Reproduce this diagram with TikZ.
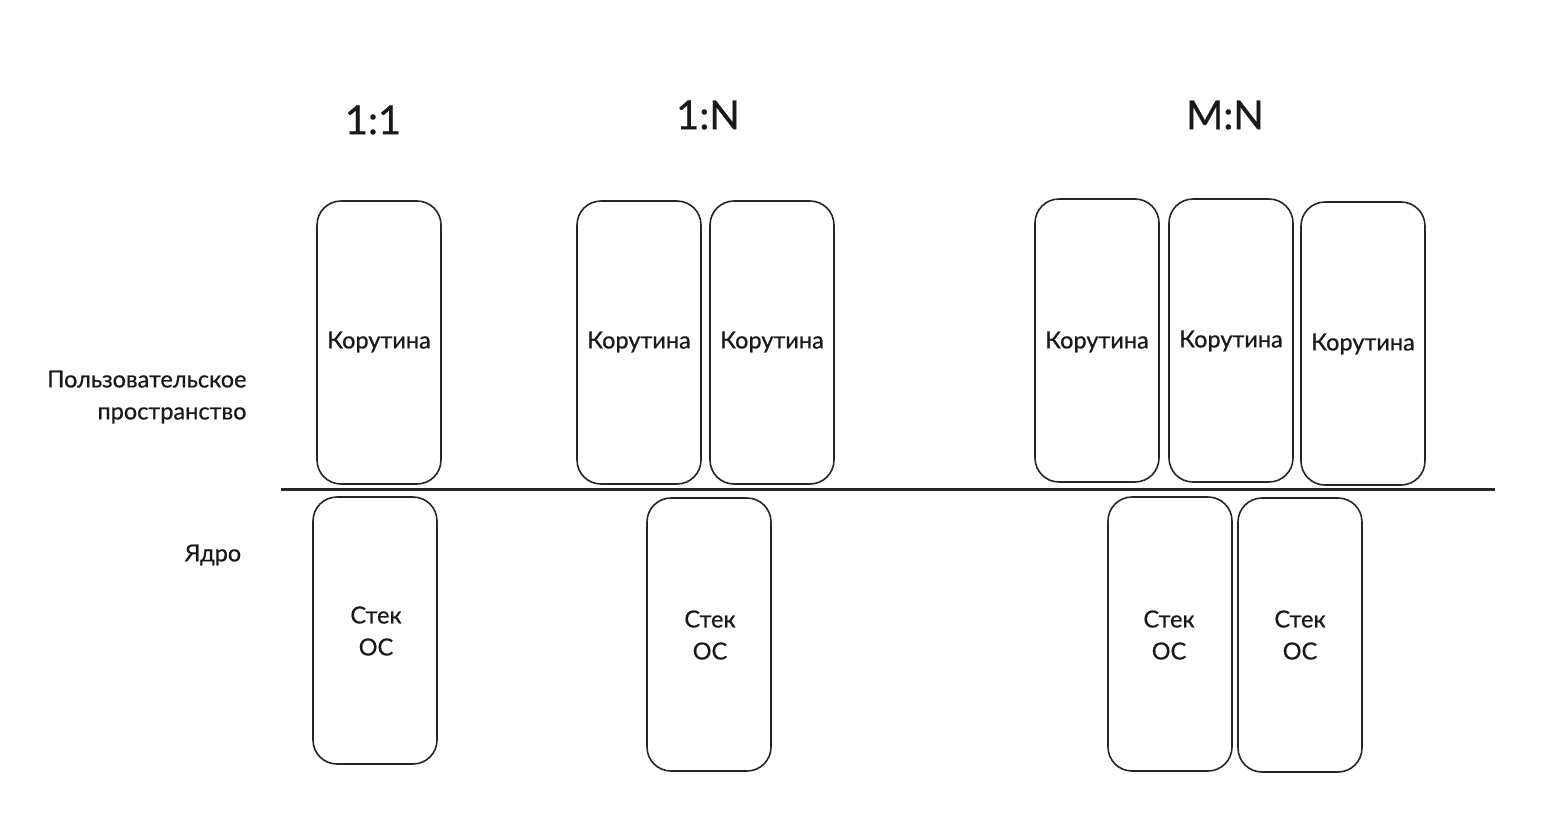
\documentclass[tikz,border=0pt]{standalone}
\usepackage{fontspec}
\setmainfont{Lato}[FakeBold=0.6]
\begin{document}
\begin{tikzpicture}[x=1pt,y=-1pt,
  box/.style={draw=black!85,line width=1.6pt,rounded corners=24pt},
  lbl/.style={font=\fontsize{23.5}{32}\selectfont,align=center,text=black!90},
  ttl/.style={font=\fontsize{40}{48}\selectfont,text=black!90}]
\useasboundingbox[fill=white] (0,0) rectangle (1560,833);
% titles
\node[ttl] (t1) at (373,120) {1:1};
\node[ttl] (t2) at (708,115) {1:N};
\node[ttl] (t3) at (1225,115) {M:N};
% side labels
\node[lbl,align=right,anchor=east] (us) at (250,397) {Пользовательское\\пространство};
\node[lbl] (kern) at (213,555) {Ядро};
% divider
\coordinate (la) at (281,489);
\coordinate (lb) at (1495,489);
\draw[line width=3pt,black!85] (la) -- (lb);
% user-space coroutines
\draw[box] (317,201) rectangle (441,484);
\node[lbl] (c1) at (379,342) {Корутина};
\draw[box] (577,201) rectangle (701,484);
\node[lbl] (c2) at (639,342) {Корутина};
\draw[box] (710,201) rectangle (834,484);
\node[lbl] (c3) at (772,342) {Корутина};
\draw[box] (1035,199) rectangle (1159,482);
\node[lbl] (c4) at (1097,342) {Корутина};
\draw[box] (1169,199) rectangle (1293,482);
\node[lbl] (c5) at (1231,341) {Корутина};
\draw[box] (1301,202) rectangle (1425,485);
\node[lbl] (c6) at (1363,344) {Корутина};
% kernel stacks
\draw[box] (313,497) rectangle (437,764);
\node[lbl] (s1) at (376,631) {Стек\\ОС};
\draw[box] (647,498) rectangle (771,771);
\node[lbl] (s2) at (710,635) {Стек\\ОС};
\draw[box] (1108,497) rectangle (1232,771);
\node[lbl] (s3) at (1169,635) {Стек\\ОС};
\draw[box] (1238,498) rectangle (1362,772);
\node[lbl] (s4) at (1300,635) {Стек\\ОС};
\end{tikzpicture}
\end{document}
